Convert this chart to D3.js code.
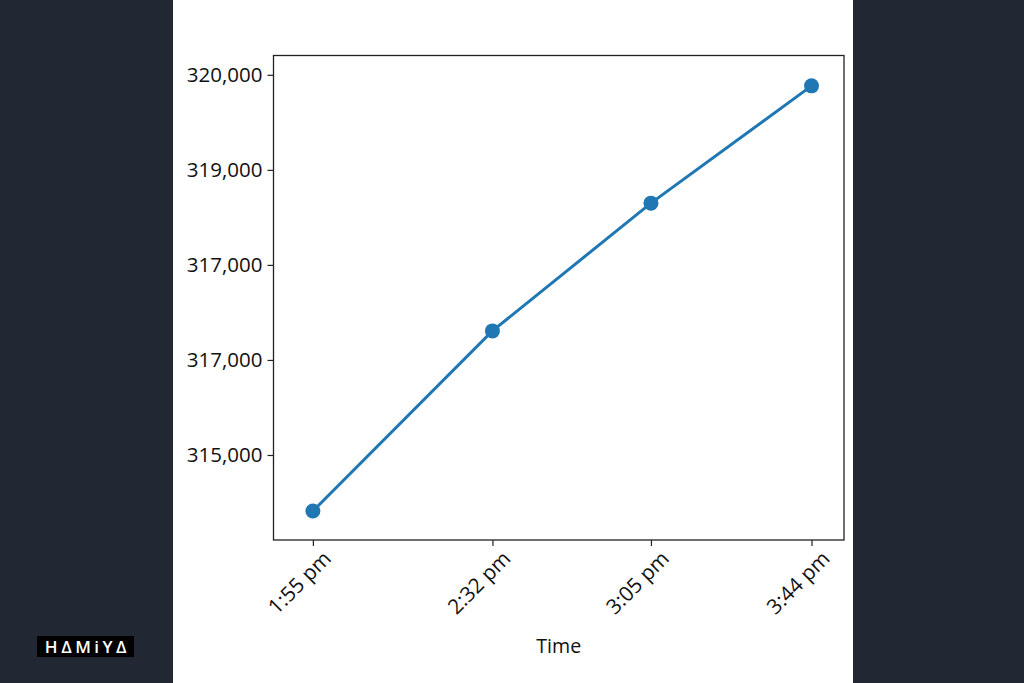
<!DOCTYPE html>
<html>
<head>
<meta charset="utf-8">
<script src="https://cdn.jsdelivr.net/npm/d3@7"></script>
<style>
  html, body { margin: 0; padding: 0; background: #212834; }
  svg { display: block; }
</style>
</head>
<body>
<svg id="chart" width="1024" height="683"></svg>
<script>
// ---- data ----
const timeLabels = ["1:55 pm", "2:32 pm", "3:05 pm", "3:44 pm"];
const minutesSinceStart = [0, 39.25, 73.9, 109];      // x position of each reading
const values = [314263, 316632, 318312, 319855];      // series values
const yTickValues = [315000, 316250, 317500, 318750, 320000];
const yTickLabels = ["315,000", "317,000", "317,000", "319,000", "320,000"];
const xTitle = "Time";

const svg = d3.select("#chart");
const W = 1024, H = 683;

// background panels
svg.append("rect").attr("x", 0).attr("y", 0).attr("width", W).attr("height", H).attr("fill", "#212834");
svg.append("rect").attr("x", 173).attr("y", 0).attr("width", 680).attr("height", H).attr("fill", "#ffffff");

const plot = { left: 273.5, right: 844, top: 55.5, bottom: 540 };

const x = d3.scaleLinear().domain([-8.61, 116.1]).range([plot.left, plot.right]);
const y = d3.scaleLinear().domain([313882, 320254]).range([plot.bottom, plot.top]);

const font = "'Open Sans', sans-serif";

// y axis
const yAxis = d3.axisLeft(y).tickValues(yTickValues)
  .tickFormat((d, i) => yTickLabels[i]).tickSize(6).tickPadding(5);
const gy = svg.append("g").attr("transform", `translate(${plot.left},0)`).call(yAxis);
gy.select(".domain").remove();
gy.selectAll("line").attr("stroke", "#222").attr("stroke-width", 1.2);
gy.selectAll("text").attr("font-family", font).attr("font-size", 20.5).attr("fill", "#111");

// x axis
const xAxis = d3.axisBottom(x).tickValues(minutesSinceStart)
  .tickFormat((d, i) => timeLabels[i]).tickSize(6);
const gx = svg.append("g").attr("transform", `translate(0,${plot.bottom})`).call(xAxis);
gx.select(".domain").remove();
gx.selectAll("line").attr("stroke", "#222").attr("stroke-width", 1.2);
gx.selectAll("text")
  .attr("font-family", font).attr("font-size", 20.8).attr("fill", "#111")
  .attr("text-anchor", "end")
  .attr("dy", null)
  .attr("y", 0)
  .attr("transform", "translate(19,20) rotate(-45)");

// frame
svg.append("rect")
  .attr("x", plot.left).attr("y", plot.top)
  .attr("width", plot.right - plot.left).attr("height", plot.bottom - plot.top)
  .attr("fill", "none").attr("stroke", "#222").attr("stroke-width", 1.3);

// line
const pts = values.map((v, i) => [minutesSinceStart[i], v]);
svg.append("path")
  .datum(pts)
  .attr("fill", "none")
  .attr("stroke", "#1f77b4")
  .attr("stroke-width", 3)
  .attr("d", d3.line().x(d => x(d[0])).y(d => y(d[1])));

svg.selectAll("circle.pt").data(pts).enter().append("circle")
  .attr("class", "pt")
  .attr("cx", d => x(d[0])).attr("cy", d => y(d[1]))
  .attr("r", 7.5).attr("fill", "#1f77b4");

// x title
svg.append("text")
  .attr("x", (plot.left + plot.right) / 2).attr("y", 653)
  .attr("text-anchor", "middle")
  .attr("font-family", font).attr("font-size", 19.6).attr("fill", "#111")
  .text(xTitle);

// logo
svg.append("rect").attr("x", 37).attr("y", 636).attr("width", 97).attr("height", 21).attr("fill", "#000");
svg.append("text")
  .attr("x", 87.5).attr("y", 652.5)
  .attr("text-anchor", "middle")
  .attr("font-family", font).attr("font-weight", "600").attr("font-size", 17)
  .attr("letter-spacing", 3.5)
  .attr("fill", "#fff")
  .text("HΔMiYΔ");
</script>
</body>
</html>
